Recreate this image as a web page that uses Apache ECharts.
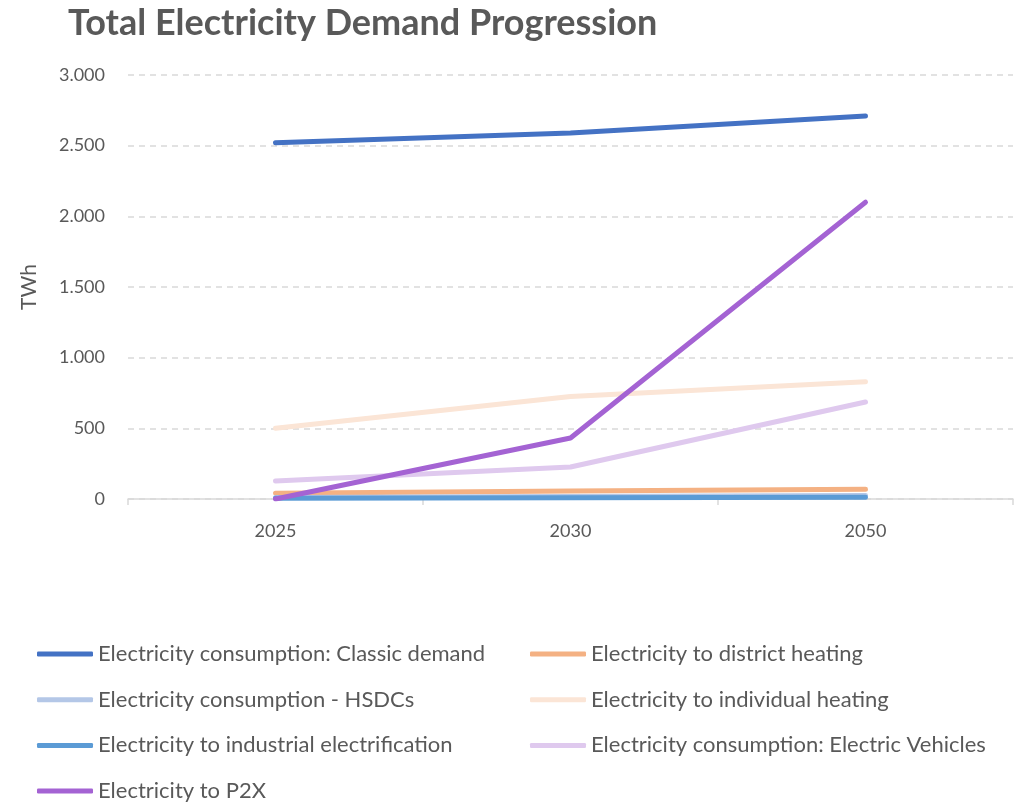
<!DOCTYPE html>
<html>
<head>
<meta charset="utf-8">
<script src="https://cdn.jsdelivr.net/npm/echarts@6/dist/echarts.min.js"></script>
<style>
  html, body { margin: 0; padding: 0; background: #ffffff; }
  #chart { width: 1018px; height: 803px; }
</style>
</head>
<body>
<div id="chart"></div>
<script>
// Scenario years on the horizontal axis
const years = ['2025', '2030', '2050'];

// Demand per category, TWh
const classicDemand     = [2520, 2590, 2710];
const districtHeating   = [40, 57, 69];
const hsdcConsumption   = [10, 18, 25];
const individualHeating = [500, 725, 830];
const industrialElec    = [5, 8, 12];
const electricVehicles  = [127, 226, 686];
const powerToX          = [0, 432, 2100];

// Value axis range and step
const yMin = 0;
const yMax = 3000;
const yStep = 500;

const seriesDefs = [
  { name: 'Electricity consumption: Classic demand', data: classicDemand, color: '#4472C4' },
  { name: 'Electricity to district heating', data: districtHeating, color: '#F4B183' },
  { name: 'Electricity consumption - HSDCs', data: hsdcConsumption, color: '#B4C7E7' },
  { name: 'Electricity to individual heating', data: individualHeating, color: '#FBE5D6' },
  { name: 'Electricity to industrial electrification', data: industrialElec, color: '#5B9BD5' },
  { name: 'Electricity consumption: Electric Vehicles', data: electricVehicles, color: '#DFC9EE' },
  { name: 'Electricity to P2X', data: powerToX, color: '#A463D3' }
];

const fontFamily = 'Lato, "Open Sans", sans-serif';
const textGray = '#595959';
const gridGray = '#D9D9D9';

const legendText = { color: textGray, fontSize: 22, fontFamily: fontFamily, lineHeight: 26 };
const legendCommon = {
  orient: 'vertical',
  top: 641,
  height: 170,
  padding: 0,
  itemWidth: 56,
  itemHeight: 5,
  itemGap: 19.7,
  icon: 'roundRect',
  textStyle: legendText,
  selectedMode: false
};

const chart = echarts.init(document.getElementById('chart'), null, { renderer: 'canvas' });

chart.setOption({
  animation: false,
  backgroundColor: '#ffffff',
  title: {
    text: 'Total Electricity Demand Progression',
    left: 63,
    top: 0,
    textStyle: { color: textGray, fontSize: 36, fontWeight: 'bold', fontFamily: fontFamily }
  },
  legend: [
    Object.assign({}, legendCommon, {
      left: 37,
      data: [seriesDefs[0].name, seriesDefs[2].name, seriesDefs[4].name, seriesDefs[6].name]
    }),
    Object.assign({}, legendCommon, {
      left: 530,
      data: [seriesDefs[1].name, seriesDefs[3].name, seriesDefs[5].name]
    })
  ],
  grid: { left: 128, right: 5, top: 75, bottom: 304, containLabel: false },
  xAxis: {
    type: 'category',
    data: years,
    boundaryGap: true,
    axisLine: { lineStyle: { color: gridGray, width: 1.5 } },
    axisTick: { show: true, length: 6, lineStyle: { color: gridGray, width: 1.5 } },
    axisLabel: { color: textGray, fontSize: 18, fontFamily: fontFamily, margin: 23 },
    splitLine: { show: false }
  },
  yAxis: {
    type: 'value',
    min: yMin,
    max: yMax,
    interval: yStep,
    name: 'TWh',
    nameLocation: 'middle',
    nameRotate: 90,
    nameGap: 88,
    nameTextStyle: { color: textGray, fontSize: 21, fontFamily: fontFamily },
    axisLine: { show: false },
    axisTick: { show: false },
    axisLabel: {
      color: textGray,
      fontSize: 18,
      fontFamily: fontFamily,
      margin: 23,
      formatter: function (v) {
        return String(v).replace(/\B(?=(\d{3})+(?!\d))/g, '.');
      }
    },
    splitLine: { lineStyle: { color: gridGray, type: [6, 5], width: 1.5 } }
  },
  series: seriesDefs.map(function (s) {
    return {
      name: s.name,
      type: 'line',
      data: s.data,
      color: s.color,
      symbol: 'none',
      lineStyle: { width: 5, color: s.color, cap: 'round', join: 'round' },
      emphasis: { disabled: true }
    };
  })
});
</script>
</body>
</html>
